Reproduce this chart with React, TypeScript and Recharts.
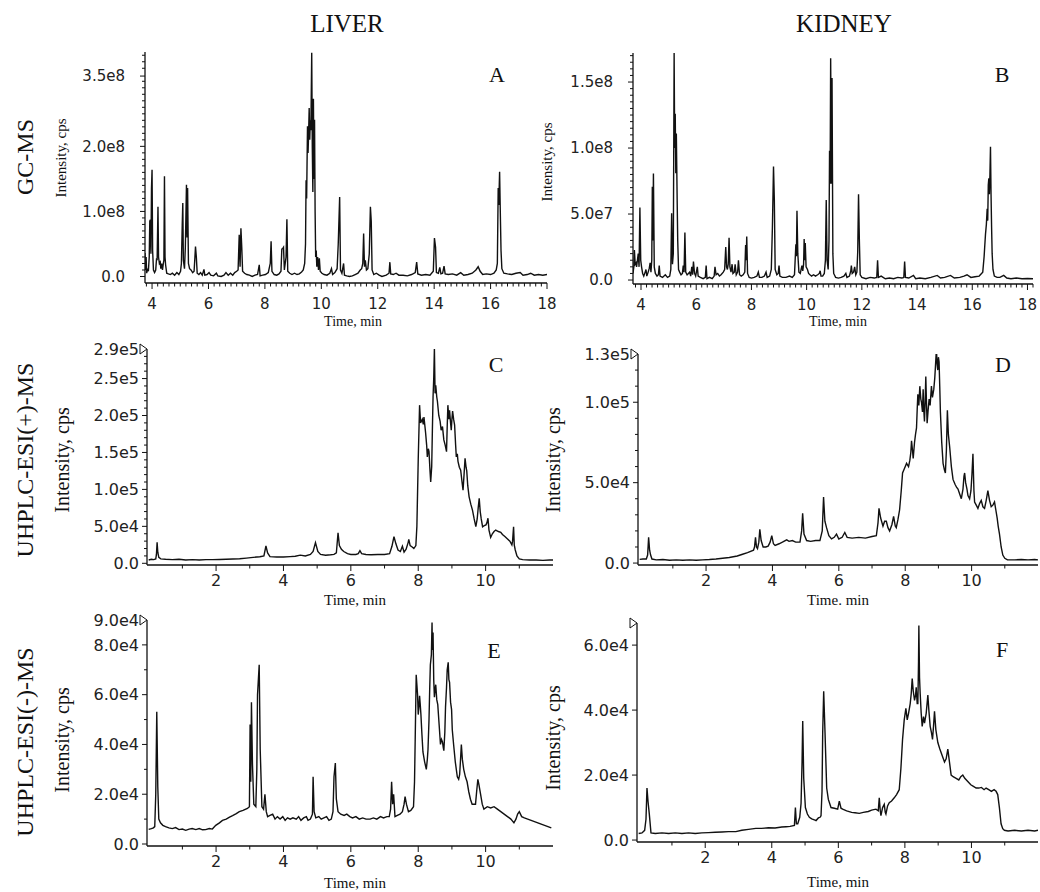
import React from "react";
import { LineChart, Line, XAxis, YAxis } from "recharts";

const SERIF = "'Liberation Serif', 'Times New Roman', serif";
const SANS = "'DejaVu Sans', Verdana, sans-serif";
const INK = "#111";

// ---------- data: [time (min), intensity in panel unit] ----------
const A_UNIT = 1e8;
const liverGC: [number, number][] = [
  [3.75,0.36],[3.77,0.1],[3.79,0.3],[3.81,0.05],[3.84,0.12],[3.87,0.08],[3.9,0.3],[3.92,0.85],[3.94,0.87],[3.96,0.35],[3.98,1.35],[4.0,1.64],[4.02,0.4],[4.05,0.1],[4.09,0.06],[4.13,0.1],[4.16,0.28],[4.18,0.25],[4.21,1.07],[4.23,0.3],[4.26,0.2],[4.29,0.22],[4.31,0.12],[4.34,0.2],[4.37,0.1],[4.4,0.2],[4.42,0.25],[4.44,1.54],[4.46,0.3],[4.48,0.18],[4.52,0.05],[4.58,0.04],[4.65,0.03],[4.72,0.05],[4.8,0.02],[4.88,0.06],[4.95,0.03],[5.01,0.08],[5.04,0.2],[5.07,0.79],[5.09,1.13],[5.11,0.25],[5.15,0.12],[5.18,0.45],[5.22,1.41],[5.24,0.6],[5.26,1.36],[5.29,0.2],[5.33,0.12],[5.38,0.1],[5.44,0.06],[5.49,0.08],[5.52,0.3],[5.54,0.46],[5.57,0.3],[5.6,0.05],[5.66,0.03],[5.72,0.06],[5.78,0.02],[5.84,0.11],[5.87,0.02],[5.95,0.03],[6.02,0.06],[6.08,0.02],[6.18,0.01],[6.28,0.05],[6.33,0.01],[6.45,0.0],[6.55,0.02],[6.62,0.06],[6.7,0.02],[6.78,0.05],[6.86,0.02],[6.93,0.06],[7.0,0.08],[7.05,0.1],[7.09,0.64],[7.12,0.15],[7.15,0.74],[7.18,0.45],[7.21,0.08],[7.28,0.05],[7.36,0.03],[7.45,0.02],[7.55,0.0],[7.65,0.02],[7.74,0.03],[7.8,0.18],[7.83,0.01],[7.92,0.02],[8.02,0.03],[8.12,0.06],[8.19,0.2],[8.22,0.54],[8.25,0.08],[8.33,0.03],[8.42,0.02],[8.5,0.04],[8.57,0.08],[8.6,0.42],[8.63,0.43],[8.66,0.45],[8.69,0.1],[8.75,0.3],[8.78,0.88],[8.81,0.08],[8.88,0.05],[8.96,0.03],[9.05,0.05],[9.14,0.03],[9.22,0.04],[9.3,0.07],[9.36,0.1],[9.41,0.2],[9.44,0.5],[9.46,1.48],[9.48,1.2],[9.51,2.31],[9.53,1.9],[9.55,2.2],[9.57,2.59],[9.59,2.1],[9.61,2.4],[9.63,2.25],[9.66,3.44],[9.68,2.0],[9.7,1.3],[9.72,2.73],[9.74,1.5],[9.76,2.41],[9.78,1.0],[9.8,0.3],[9.82,0.4],[9.84,0.15],[9.87,0.3],[9.9,0.1],[9.93,0.28],[9.96,0.08],[10.02,0.05],[10.1,0.03],[10.2,0.02],[10.3,0.05],[10.36,0.12],[10.4,0.03],[10.48,0.06],[10.56,0.12],[10.6,0.5],[10.65,1.22],[10.68,0.1],[10.73,0.05],[10.79,0.2],[10.82,0.02],[10.9,0.01],[11.0,0.0],[11.1,0.01],[11.2,0.03],[11.3,0.05],[11.38,0.1],[11.43,0.12],[11.47,0.2],[11.5,0.66],[11.53,0.15],[11.56,0.25],[11.6,0.1],[11.65,0.12],[11.7,0.35],[11.74,1.07],[11.77,0.85],[11.8,0.1],[11.86,0.03],[11.95,0.05],[12.05,0.02],[12.15,0.0],[12.3,0.02],[12.4,0.05],[12.43,0.22],[12.46,0.04],[12.55,0.03],[12.65,0.05],[12.75,0.02],[12.9,0.02],[13.05,0.01],[13.2,0.03],[13.33,0.06],[13.38,0.22],[13.42,0.04],[13.55,0.02],[13.7,0.03],[13.85,0.02],[13.97,0.08],[14.01,0.59],[14.05,0.45],[14.08,0.06],[14.15,0.05],[14.2,0.14],[14.24,0.04],[14.3,0.05],[14.35,0.16],[14.39,0.04],[14.5,0.03],[14.65,0.04],[14.8,0.02],[14.94,0.06],[15.05,0.02],[15.2,0.03],[15.35,0.05],[15.48,0.1],[15.56,0.15],[15.63,0.08],[15.72,0.03],[15.85,0.04],[16.0,0.03],[16.12,0.05],[16.2,0.1],[16.24,0.2],[16.27,1.36],[16.29,1.1],[16.32,1.61],[16.34,1.1],[16.37,0.4],[16.4,0.12],[16.47,0.05],[16.6,0.04],[16.75,0.03],[16.9,0.05],[17.05,0.06],[17.15,0.02],[17.3,0.03],[17.42,0.05],[17.55,0.02],[17.7,0.03],[17.85,0.02],[18.0,0.03],
];

const B_UNIT = 1e7;
const kidneyGC: [number, number][] = [
  [3.71,0.5],[3.74,1.0],[3.76,2.27],[3.79,1.2],[3.82,1.3],[3.84,1.0],[3.87,1.5],[3.9,2.0],[3.93,1.0],[3.96,5.5],[3.99,1.5],[4.02,1.0],[4.06,0.5],[4.1,0.3],[4.15,0.6],[4.18,0.8],[4.21,0.3],[4.26,0.6],[4.3,0.9],[4.33,1.3],[4.36,0.6],[4.39,1.5],[4.41,7.07],[4.43,3.0],[4.45,8.08],[4.48,1.0],[4.52,0.5],[4.58,0.3],[4.63,0.4],[4.66,1.1],[4.69,0.3],[4.78,0.2],[4.88,0.4],[4.96,0.2],[5.04,0.3],[5.08,0.8],[5.11,5.05],[5.14,1.2],[5.17,2.0],[5.2,17.2],[5.22,10.0],[5.24,12.6],[5.26,8.1],[5.28,11.1],[5.31,6.0],[5.33,3.0],[5.36,0.8],[5.4,0.6],[5.45,0.4],[5.5,0.5],[5.53,1.1],[5.56,0.6],[5.59,3.6],[5.62,0.6],[5.67,0.4],[5.72,0.5],[5.76,0.6],[5.8,0.3],[5.84,1.0],[5.87,0.4],[5.9,1.4],[5.94,0.5],[5.98,0.3],[6.04,1.0],[6.07,0.3],[6.15,0.2],[6.25,0.1],[6.33,0.2],[6.36,1.1],[6.39,0.1],[6.48,0.2],[6.58,0.1],[6.65,0.3],[6.68,1.0],[6.72,0.4],[6.78,0.5],[6.84,0.3],[6.9,0.4],[6.98,0.6],[7.03,0.8],[7.07,2.5],[7.1,1.0],[7.13,0.8],[7.16,1.2],[7.19,3.2],[7.22,1.0],[7.26,0.6],[7.3,1.2],[7.33,0.5],[7.38,0.6],[7.41,1.2],[7.45,0.4],[7.5,0.6],[7.53,1.5],[7.57,0.4],[7.63,0.3],[7.7,0.4],[7.76,0.6],[7.79,2.65],[7.81,1.5],[7.83,3.3],[7.86,0.5],[7.92,0.2],[8.0,0.15],[8.1,0.2],[8.2,0.3],[8.25,0.6],[8.29,0.2],[8.38,0.2],[8.47,0.3],[8.53,0.6],[8.57,0.2],[8.66,0.3],[8.72,0.8],[8.76,4.0],[8.8,8.6],[8.83,6.06],[8.86,0.8],[8.92,0.4],[8.97,0.5],[9.0,1.1],[9.03,0.3],[9.12,0.2],[9.25,0.2],[9.38,0.3],[9.48,0.2],[9.56,0.4],[9.61,2.7],[9.63,1.8],[9.65,5.25],[9.68,2.0],[9.72,0.6],[9.77,0.5],[9.8,0.8],[9.83,1.1],[9.86,0.7],[9.89,1.2],[9.91,3.1],[9.93,1.5],[9.95,2.8],[9.98,1.0],[10.03,0.8],[10.07,0.5],[10.12,0.4],[10.18,0.3],[10.25,0.4],[10.32,0.3],[10.4,0.4],[10.46,0.5],[10.49,0.7],[10.52,0.3],[10.58,0.3],[10.64,0.5],[10.68,1.5],[10.71,6.06],[10.74,1.5],[10.78,0.8],[10.81,3.0],[10.83,9.8],[10.85,7.3],[10.87,16.8],[10.9,7.3],[10.92,15.3],[10.95,2.0],[10.98,0.5],[11.05,0.2],[11.15,0.15],[11.25,0.2],[11.35,0.3],[11.42,0.5],[11.46,0.2],[11.55,0.3],[11.6,0.7],[11.62,1.1],[11.65,0.5],[11.7,0.6],[11.74,1.0],[11.78,0.4],[11.82,0.6],[11.85,2.1],[11.88,6.5],[11.91,3.0],[11.94,0.4],[12.0,0.2],[12.15,0.1],[12.3,0.2],[12.45,0.15],[12.54,0.2],[12.57,1.5],[12.6,0.2],[12.7,0.3],[12.85,0.1],[13.0,0.15],[13.15,0.1],[13.3,0.2],[13.45,0.15],[13.52,0.2],[13.55,1.4],[13.58,0.2],[13.7,0.15],[13.87,0.35],[13.95,0.1],[14.1,0.15],[14.3,0.1],[14.5,0.2],[14.73,0.35],[14.85,0.15],[15.0,0.2],[15.21,0.35],[15.35,0.15],[15.55,0.2],[15.7,0.3],[15.81,0.4],[15.95,0.2],[16.1,0.25],[16.25,0.3],[16.38,0.6],[16.43,1.8],[16.45,2.5],[16.48,3.5],[16.51,4.2],[16.54,5.4],[16.56,4.5],[16.58,7.2],[16.6,7.7],[16.62,6.5],[16.64,8.0],[16.66,10.1],[16.68,6.5],[16.7,4.0],[16.72,2.0],[16.75,0.8],[16.8,0.3],[16.9,0.2],[17.0,0.2],[17.14,0.35],[17.25,0.15],[17.4,0.1],[17.6,0.15],[17.8,0.1],[18.0,0.12],[18.2,0.1],
];

const LC_UNIT = 1e4;
const liverPos: [number, number][] = [
  [0.0,0.45],[0.08,0.55],[0.15,0.5],[0.21,0.6],[0.23,1.2],[0.25,2.84],[0.27,1.5],[0.3,0.8],[0.36,0.6],[0.5,0.55],[0.7,0.5],[0.9,0.55],[1.1,0.45],[1.3,0.5],[1.5,0.45],[1.7,0.5],[1.9,0.5],[2.1,0.52],[2.3,0.55],[2.5,0.58],[2.7,0.62],[2.9,0.7],[3.1,0.8],[3.3,0.88],[3.42,1.0],[3.48,2.34],[3.53,1.4],[3.6,0.9],[3.8,0.85],[4.0,0.85],[4.2,0.9],[4.35,0.95],[4.5,1.1],[4.65,1.0],[4.8,1.2],[4.88,1.6],[4.95,2.8],[5.02,1.6],[5.1,1.2],[5.25,1.1],[5.4,1.15],[5.5,1.2],[5.57,1.4],[5.62,4.14],[5.66,2.4],[5.72,1.9],[5.79,1.6],[5.9,1.3],[6.0,1.2],[6.15,1.2],[6.22,1.3],[6.27,1.7],[6.32,1.3],[6.45,1.2],[6.6,1.15],[6.8,1.2],[7.0,1.2],[7.15,1.3],[7.22,2.3],[7.28,3.6],[7.34,2.6],[7.4,1.8],[7.47,1.6],[7.53,2.3],[7.58,1.5],[7.64,1.9],[7.7,2.8],[7.72,3.25],[7.76,2.4],[7.82,2.2],[7.87,2.0],[7.93,2.4],[7.96,5.0],[8.0,14.0],[8.04,21.4],[8.07,19.0],[8.09,19.2],[8.12,19.5],[8.15,18.8],[8.17,19.8],[8.2,18.5],[8.22,17.6],[8.25,16.0],[8.27,14.4],[8.3,15.5],[8.32,15.1],[8.35,12.5],[8.37,11.0],[8.4,13.1],[8.42,18.0],[8.44,22.5],[8.46,25.0],[8.48,29.1],[8.5,23.0],[8.52,24.1],[8.55,22.5],[8.57,21.9],[8.61,20.0],[8.65,19.2],[8.68,18.0],[8.72,18.5],[8.76,16.7],[8.8,16.0],[8.84,15.1],[8.86,18.5],[8.88,21.4],[8.91,19.5],[8.93,20.7],[8.96,19.0],[8.98,18.0],[9.0,19.5],[9.02,20.6],[9.05,19.5],[9.08,18.7],[9.11,16.0],[9.13,14.4],[9.16,14.8],[9.18,13.8],[9.22,13.0],[9.26,12.6],[9.3,11.0],[9.33,9.9],[9.36,12.0],[9.39,14.2],[9.42,13.0],[9.44,12.5],[9.47,10.5],[9.51,9.0],[9.56,8.0],[9.61,7.2],[9.66,6.0],[9.71,4.95],[9.75,6.0],[9.78,7.5],[9.81,8.8],[9.84,7.0],[9.87,6.0],[9.91,4.95],[9.96,5.1],[10.01,5.2],[10.04,5.5],[10.07,6.1],[10.1,4.5],[10.15,3.5],[10.2,4.0],[10.25,4.3],[10.3,4.5],[10.38,4.3],[10.45,4.2],[10.5,3.9],[10.58,3.6],[10.65,3.3],[10.72,3.0],[10.78,2.5],[10.8,3.0],[10.83,4.95],[10.85,2.5],[10.88,1.8],[10.93,1.0],[11.0,0.6],[11.1,0.5],[11.3,0.45],[11.5,0.45],[11.7,0.4],[11.9,0.45],[12.0,0.45],
];

const kidneyPos: [number, number][] = [
  [0.0,0.23],[0.1,0.25],[0.2,0.25],[0.24,0.5],[0.27,1.6],[0.3,0.8],[0.33,0.5],[0.37,0.25],[0.5,0.2],[0.7,0.22],[0.9,0.18],[1.1,0.2],[1.3,0.18],[1.5,0.2],[1.7,0.18],[1.9,0.2],[2.1,0.22],[2.3,0.25],[2.5,0.3],[2.7,0.35],[2.94,0.44],[3.1,0.55],[3.25,0.65],[3.43,0.8],[3.46,1.0],[3.49,1.6],[3.52,1.0],[3.55,0.9],[3.59,1.3],[3.62,2.1],[3.66,1.4],[3.72,1.0],[3.8,1.0],[3.87,1.05],[3.93,1.3],[3.98,1.7],[4.03,1.2],[4.08,1.1],[4.2,1.2],[4.3,1.3],[4.43,1.44],[4.5,1.35],[4.6,1.4],[4.7,1.3],[4.83,1.3],[4.88,2.0],[4.91,3.1],[4.95,1.8],[5.03,1.4],[5.15,1.35],[5.3,1.4],[5.43,1.4],[5.5,2.0],[5.54,4.1],[5.58,2.6],[5.63,2.2],[5.7,1.7],[5.78,1.5],[5.86,1.6],[5.93,1.8],[6.0,1.5],[6.1,1.6],[6.18,1.9],[6.25,1.6],[6.4,1.55],[6.6,1.6],[6.8,1.55],[7.0,1.65],[7.13,1.7],[7.18,2.5],[7.21,3.4],[7.26,2.8],[7.33,2.3],[7.38,2.6],[7.43,2.6],[7.48,2.2],[7.53,2.0],[7.6,2.4],[7.65,2.9],[7.7,2.3],[7.73,2.2],[7.78,2.7],[7.83,3.3],[7.88,4.5],[7.92,5.6],[7.98,5.9],[8.04,6.2],[8.1,6.0],[8.14,6.4],[8.17,6.9],[8.19,7.6],[8.22,7.0],[8.24,6.5],[8.28,7.5],[8.31,8.0],[8.34,8.4],[8.36,9.5],[8.38,10.5],[8.41,9.8],[8.44,11.0],[8.47,10.2],[8.49,10.0],[8.52,9.4],[8.54,10.8],[8.56,9.5],[8.58,8.8],[8.6,10.0],[8.62,11.6],[8.64,10.0],[8.66,8.7],[8.69,9.5],[8.72,10.2],[8.75,9.8],[8.79,11.0],[8.82,10.3],[8.86,10.8],[8.89,11.5],[8.91,12.2],[8.94,13.3],[8.96,12.4],[8.98,12.0],[9.0,12.8],[9.02,12.5],[9.04,11.0],[9.06,9.4],[9.1,7.5],[9.14,6.2],[9.18,5.8],[9.21,5.6],[9.24,7.0],[9.27,9.5],[9.3,8.0],[9.34,7.2],[9.39,6.0],[9.44,5.2],[9.5,4.9],[9.55,4.7],[9.59,4.6],[9.64,4.3],[9.69,4.0],[9.74,4.6],[9.77,5.4],[9.79,5.6],[9.82,5.0],[9.86,4.6],[9.89,4.2],[9.94,4.0],[9.98,4.5],[10.01,5.5],[10.04,6.8],[10.07,4.5],[10.09,3.8],[10.14,3.6],[10.19,3.4],[10.24,3.7],[10.29,3.9],[10.34,3.5],[10.39,3.4],[10.44,3.9],[10.49,4.5],[10.54,3.9],[10.59,3.5],[10.64,3.6],[10.69,3.8],[10.73,3.3],[10.77,2.8],[10.8,2.3],[10.84,1.8],[10.89,1.0],[10.94,0.5],[11.0,0.3],[11.08,0.2],[11.3,0.2],[11.5,0.22],[11.7,0.2],[11.9,0.22],[12.0,0.2],
];

const liverNeg: [number, number][] = [
  [0.0,0.59],[0.08,0.62],[0.14,0.65],[0.18,0.7],[0.21,2.0],[0.24,5.31],[0.27,2.3],[0.3,1.0],[0.35,0.85],[0.42,0.75],[0.5,0.7],[0.6,0.65],[0.7,0.62],[0.8,0.66],[0.9,0.58],[1.0,0.6],[1.1,0.55],[1.2,0.6],[1.29,0.62],[1.4,0.58],[1.5,0.62],[1.6,0.57],[1.69,0.58],[1.8,0.62],[1.89,0.6],[1.99,0.75],[2.1,0.85],[2.19,0.95],[2.3,1.0],[2.4,1.08],[2.49,1.14],[2.6,1.22],[2.69,1.3],[2.8,1.35],[2.93,1.43],[2.99,1.5],[3.01,4.8],[3.03,2.5],[3.05,5.7],[3.08,3.2],[3.12,1.6],[3.18,1.5],[3.21,3.0],[3.23,6.0],[3.28,7.2],[3.31,3.8],[3.36,1.5],[3.41,1.4],[3.45,2.0],[3.49,1.3],[3.53,1.1],[3.6,1.15],[3.68,1.2],[3.75,1.0],[3.82,1.1],[3.9,1.0],[3.98,1.1],[4.05,0.95],[4.12,1.05],[4.2,1.0],[4.28,1.05],[4.38,1.0],[4.45,1.1],[4.52,0.95],[4.6,1.05],[4.68,1.1],[4.73,0.95],[4.8,1.0],[4.86,1.2],[4.88,2.7],[4.91,1.3],[4.96,1.05],[5.05,1.1],[5.12,1.0],[5.2,1.05],[5.28,1.1],[5.35,0.95],[5.42,1.0],[5.47,1.3],[5.5,2.7],[5.54,3.25],[5.57,1.8],[5.62,1.3],[5.7,1.2],[5.8,1.15],[5.88,1.2],[5.97,1.1],[6.05,1.05],[6.15,1.1],[6.25,1.0],[6.35,1.05],[6.45,1.0],[6.57,1.0],[6.67,1.05],[6.77,1.0],[6.88,1.1],[6.97,1.05],[7.07,1.1],[7.14,1.1],[7.18,1.4],[7.21,2.5],[7.24,1.6],[7.27,2.0],[7.31,1.1],[7.38,1.15],[7.46,1.2],[7.53,1.3],[7.58,1.6],[7.61,1.9],[7.65,1.6],[7.71,1.3],[7.78,1.35],[7.86,1.5],[7.89,2.5],[7.91,4.2],[7.94,6.8],[7.96,6.4],[7.98,6.0],[8.0,5.2],[8.02,5.5],[8.04,5.95],[8.06,5.6],[8.08,5.2],[8.11,4.4],[8.14,3.7],[8.19,3.3],[8.24,3.0],[8.27,3.4],[8.29,3.8],[8.32,5.0],[8.34,6.2],[8.36,7.2],[8.39,7.6],[8.41,8.9],[8.42,7.8],[8.44,8.5],[8.46,6.6],[8.48,5.9],[8.5,6.2],[8.52,6.4],[8.55,5.8],[8.58,5.6],[8.62,4.8],[8.66,4.0],[8.69,4.2],[8.72,4.1],[8.74,3.9],[8.76,3.75],[8.79,4.5],[8.81,5.5],[8.84,6.3],[8.86,7.0],[8.89,7.3],[8.91,6.6],[8.93,6.5],[8.96,5.7],[8.99,5.4],[9.01,4.6],[9.05,4.0],[9.1,3.3],[9.16,2.7],[9.2,2.6],[9.23,2.8],[9.26,3.5],[9.28,4.0],[9.31,3.4],[9.35,3.0],[9.4,2.7],[9.45,2.5],[9.5,2.1],[9.55,1.8],[9.6,1.6],[9.65,1.6],[9.7,1.6],[9.74,2.2],[9.77,2.6],[9.8,2.4],[9.85,2.0],[9.9,1.6],[9.95,1.4],[10.05,1.5],[10.15,1.45],[10.25,1.5],[10.35,1.4],[10.45,1.3],[10.55,1.2],[10.65,1.1],[10.75,1.0],[10.84,0.85],[10.9,1.0],[10.95,1.2],[11.0,1.3],[11.07,1.1],[11.15,1.05],[11.25,1.0],[11.35,0.95],[11.45,0.9],[11.55,0.85],[11.65,0.8],[11.75,0.75],[11.85,0.7],[11.95,0.65],
];

const kidneyNeg: [number, number][] = [
  [0.0,0.2],[0.1,0.22],[0.18,0.3],[0.22,0.64],[0.25,1.6],[0.28,1.2],[0.32,0.8],[0.37,0.22],[0.5,0.2],[0.7,0.22],[0.9,0.2],[1.1,0.22],[1.3,0.2],[1.5,0.22],[1.7,0.2],[1.9,0.22],[2.1,0.23],[2.3,0.24],[2.5,0.25],[2.7,0.26],[2.92,0.26],[3.1,0.3],[3.3,0.33],[3.52,0.36],[3.7,0.36],[3.9,0.38],[4.1,0.37],[4.3,0.4],[4.43,0.41],[4.55,0.42],[4.68,0.45],[4.71,1.0],[4.74,0.5],[4.78,0.5],[4.84,0.7],[4.88,1.13],[4.91,2.4],[4.93,3.66],[4.96,1.9],[5.01,1.0],[5.07,0.8],[5.13,0.7],[5.2,0.65],[5.28,0.62],[5.33,0.6],[5.4,0.68],[5.45,0.7],[5.48,0.75],[5.51,1.5],[5.53,3.3],[5.56,4.58],[5.6,3.3],[5.65,1.6],[5.7,1.25],[5.78,1.0],[5.88,0.98],[5.98,0.95],[6.03,1.2],[6.08,0.98],[6.13,0.95],[6.25,0.9],[6.4,0.85],[6.5,0.84],[6.63,0.82],[6.75,0.85],[6.9,0.88],[7.0,0.92],[7.13,0.95],[7.2,0.9],[7.23,1.3],[7.26,0.9],[7.28,0.75],[7.33,1.0],[7.38,1.1],[7.41,0.85],[7.43,0.8],[7.48,1.05],[7.53,1.15],[7.6,1.2],[7.68,1.3],[7.75,1.4],[7.83,1.55],[7.88,2.2],[7.93,3.1],[7.98,3.7],[8.03,4.05],[8.07,3.7],[8.11,3.9],[8.16,4.2],[8.19,4.5],[8.22,4.97],[8.25,4.6],[8.29,4.3],[8.32,4.45],[8.34,4.7],[8.37,4.2],[8.39,4.2],[8.41,5.5],[8.42,6.6],[8.44,5.0],[8.46,4.5],[8.49,3.9],[8.52,3.5],[8.56,3.8],[8.59,3.6],[8.64,3.9],[8.69,4.46],[8.72,4.0],[8.76,3.5],[8.8,3.3],[8.83,3.1],[8.86,3.5],[8.89,3.96],[8.93,3.4],[8.99,3.0],[9.05,2.8],[9.12,2.6],[9.19,2.4],[9.24,2.5],[9.29,2.8],[9.34,2.4],[9.39,2.0],[9.45,1.95],[9.54,1.9],[9.62,1.85],[9.68,1.95],[9.74,2.0],[9.8,1.9],[9.89,1.8],[9.98,1.7],[10.06,1.65],[10.14,1.6],[10.22,1.6],[10.3,1.62],[10.38,1.55],[10.44,1.6],[10.52,1.55],[10.6,1.5],[10.68,1.55],[10.74,1.5],[10.79,1.4],[10.84,1.0],[10.89,0.5],[10.94,0.35],[10.99,0.3],[11.1,0.28],[11.3,0.3],[11.5,0.28],[11.7,0.3],[11.9,0.28],[12.0,0.3],
];

// ---------- tick values and labels ----------
const GC_XMAJOR = [4, 6, 8, 10, 12, 14, 16, 18];
const LC_XMAJOR = [2, 4, 6, 8, 10];
const A_YTICKS = [0, 1e8, 2e8, 3.08e8];
const A_YLABELS = ["0.0", "1.0e8", "2.0e8", "3.5e8"];
const B_YTICKS = [0, 5e7, 1e8, 1.5e8];
const B_YLABELS = ["0.0", "5.0e7", "1.0e8", "1.5e8"];
const C_YTICKS = [0, 5e4, 1e5, 1.5e5, 2e5, 2.5e5, 2.9e5];
const C_YLABELS = ["0.0", "5.0e4", "1.0e5", "1.5e5", "2.0e5", "2.5e5", "2.9e5"];
const D_YTICKS = [0, 5e4, 1e5, 1.3e5];
const D_YLABELS = ["0.0", "5.0e4", "1.0e5", "1.3e5"];
const E_YTICKS = [0, 2e4, 4e4, 6e4, 8e4, 9e4];
const E_YLABELS = ["0.0", "2.0e4", "4.0e4", "6.0e4", "8.0e4", "9.0e4"];
const F_YTICKS = [0, 2e4, 4e4, 6e4, 6.68e4];
const F_YLABELS = ["0.0", "2.0e4", "4.0e4", "6.0e4", ""];

const COLUMN_TITLES = ["LIVER", "KIDNEY"];
const ROW_TITLES = ["GC-MS", "UHPLC-ESI(+)-MS", "UHPLC-ESI(-)-MS"];
const PANEL_LETTERS = ["A", "B", "C", "D", "E", "F"];

// ---------- helpers ----------
const close = (a: number, b: number) =>
  Math.abs(a - b) <= 1e-6 * Math.max(1, Math.abs(a), Math.abs(b));
const steps = (from: number, to: number, step: number, exclude: number[]) => {
  const out: number[] = [];
  const n = Math.round((to - from) / step);
  for (let i = 0; i <= n; i++) {
    const v = Math.round((from + i * step) * 1e6) / 1e6;
    if (!exclude.some((e) => Math.abs(e - v) < step * 0.3)) out.push(v);
  }
  return out;
};
const rows = (pts: [number, number][], unit: number) => pts.map(([t, v]) => ({ t, v: v * unit }));

type Cfg = {
  data: { t: number; v: number }[];
  left: number; top: number; right: number; axisY: number;
  xDomain: [number, number]; yDomain: [number, number];
  xMajor: number[]; xMinor: number[];
  yMajor: number[]; yLabels: string[]; yMinor: number[];
  tickFont: number; yGap: number; xOff: number; triangle: boolean;
};

const PANELS: Cfg[] = [
  {
    data: rows(liverGC, A_UNIT), left: 145, top: 52, right: 547, axisY: 283,
    xDomain: [3.75, 18.0], yDomain: [-0.1e8, 3.45e8],
    xMajor: GC_XMAJOR, xMinor: steps(3.8, 18, 0.2, GC_XMAJOR),
    yMajor: A_YTICKS, yLabels: A_YLABELS, yMinor: steps(0, 3.4e8, 0.1e8, A_YTICKS),
    tickFont: 15, yGap: 20, xOff: 26, triangle: false,
  },
  {
    data: rows(kidneyGC, B_UNIT), left: 633, top: 53, right: 1033, axisY: 284,
    xDomain: [3.71, 18.2], yDomain: [-0.3e7, 17.2e7],
    xMajor: GC_XMAJOR, xMinor: steps(3.8, 18.2, 0.2, GC_XMAJOR),
    yMajor: B_YTICKS, yLabels: B_YLABELS, yMinor: steps(0, 1.7e8, 0.5e7, B_YTICKS),
    tickFont: 15, yGap: 20, xOff: 26, triangle: false,
  },
  {
    data: rows(liverPos, LC_UNIT), left: 147, top: 349, right: 553, axisY: 565,
    xDomain: [-0.05, 12.0], yDomain: [-2300, 290000],
    xMajor: LC_XMAJOR, xMinor: steps(1, 11, 1, LC_XMAJOR),
    yMajor: C_YTICKS, yLabels: C_YLABELS, yMinor: steps(0, 2.8e5, 1e4, C_YTICKS),
    tickFont: 16, yGap: 8, xOff: 21, triangle: true,
  },
  {
    data: rows(kidneyPos, LC_UNIT), left: 638, top: 354, right: 1038, axisY: 565,
    xDomain: [-0.05, 12.0], yDomain: [-1200, 130000],
    xMajor: LC_XMAJOR, xMinor: steps(1, 11, 1, LC_XMAJOR),
    yMajor: D_YTICKS, yLabels: D_YLABELS, yMinor: steps(0, 1.2e5, 1e4, D_YTICKS),
    tickFont: 16, yGap: 8, xOff: 21, triangle: true,
  },
  {
    data: rows(liverNeg, LC_UNIT), left: 147, top: 620, right: 553, axisY: 846,
    xDomain: [-0.05, 12.0], yDomain: [-800, 90000],
    xMajor: LC_XMAJOR, xMinor: steps(1, 11, 1, LC_XMAJOR),
    yMajor: E_YTICKS, yLabels: E_YLABELS, yMinor: steps(0, 8.5e4, 1e4, E_YTICKS),
    tickFont: 16, yGap: 8, xOff: 21, triangle: true,
  },
  {
    data: rows(kidneyNeg, LC_UNIT), left: 637, top: 623, right: 1038, axisY: 842,
    xDomain: [-0.05, 12.0], yDomain: [-600, 66800],
    xMajor: LC_XMAJOR, xMinor: steps(1, 11, 1, LC_XMAJOR),
    yMajor: F_YTICKS, yLabels: F_YLABELS, yMinor: [],
    tickFont: 16, yGap: 8, xOff: 21, triangle: true,
  },
];

const YW = 110;
const MT = 8;
const MR = 24;
const XH = 50;

function XTick(props: any) {
  const { x, y, payload, cfg } = props;
  const v = payload.value;
  const major = cfg.xMajor.some((m: number) => close(m, v));
  return (
    <g>
      <line x1={x} x2={x} y1={y} y2={y + (major ? 6 : 3.5)} stroke={INK} strokeWidth={1} />
      {major && (
        <text x={x} y={y + cfg.xOff} textAnchor="middle" fontFamily={SANS} fontSize={cfg.tickFont} fill="#222">
          {String(v)}
        </text>
      )}
    </g>
  );
}

function YTick(props: any) {
  const { x, y, payload, cfg } = props;
  const v = payload.value;
  const idx = cfg.yMajor.findIndex((m: number) => close(m, v));
  const major = idx >= 0;
  const isTop = major && idx === cfg.yMajor.length - 1;
  return (
    <g>
      {!(isTop && cfg.triangle) && (
        <line x1={x - (major ? 5 : 3)} x2={x} y1={y} y2={y} stroke={INK} strokeWidth={1} />
      )}
      {isTop && cfg.triangle && (
        <path d={`M${x - 7},${y - 5} L${x},${y} L${x - 7},${y + 5} Z`} fill="#fff" stroke={INK} strokeWidth={1} />
      )}
      {major && cfg.yLabels[idx] && (
        <text x={x - cfg.yGap} y={y} dy="0.36em" textAnchor="end" fontFamily={SANS} fontSize={cfg.tickFont} fill="#222">
          {cfg.yLabels[idx]}
        </text>
      )}
    </g>
  );
}

function Panel({ cfg }: { cfg: Cfg }) {
  const w = YW + (cfg.right - cfg.left) + MR;
  const h = MT + (cfg.axisY - cfg.top) + XH;
  const xt = [...cfg.xMajor, ...cfg.xMinor].sort((a, b) => a - b);
  const yt = [...cfg.yMajor, ...cfg.yMinor].sort((a, b) => a - b);
  return (
    <div style={{ position: "absolute", left: cfg.left - YW, top: cfg.top - MT }}>
      <LineChart width={w} height={h} data={cfg.data} margin={{ top: MT, right: MR, bottom: 0, left: 0 }}>
        <XAxis
          dataKey="t" type="number" domain={cfg.xDomain} ticks={xt} interval={0}
          allowDataOverflow height={XH} tickSize={0} tickMargin={0} tickLine={false}
          axisLine={{ stroke: INK, strokeWidth: 1.3 }}
          tick={(p: any) => <XTick {...p} cfg={cfg} />}
        />
        <YAxis
          type="number" domain={cfg.yDomain} ticks={yt} interval={0} allowDataOverflow
          width={YW} tickSize={0} tickMargin={0} tickLine={false}
          axisLine={{ stroke: INK, strokeWidth: 1.3 }}
          tick={(p: any) => <YTick {...p} cfg={cfg} />}
        />
        <Line type="linear" dataKey="v" stroke={INK} strokeWidth={1.4} dot={false} isAnimationActive={false} />
      </LineChart>
    </div>
  );
}

const rot = (x: number, y: number) => `rotate(-90 ${x} ${y})`;

export default function App() {
  const yTitles = [
    { x: 66, y: 158, s: 15 }, { x: 552, y: 162, s: 15 },
    { x: 69, y: 460, s: 20 }, { x: 560, y: 460, s: 20 },
    { x: 69, y: 740, s: 20 }, { x: 560, y: 738, s: 20 },
  ];
  const xTitles = [
    { x: 353, y: 326, s: 14, t: "Time, min" }, { x: 838, y: 326, s: 14, t: "Time, min" },
    { x: 355, y: 605, s: 15, t: "Time, min" }, { x: 838, y: 605, s: 15, t: "Time. min" },
    { x: 355, y: 888, s: 15, t: "Time, min" }, { x: 838, y: 887, s: 15, t: "Time, min" },
  ];
  const letterPos = [
    { x: 497, y: 82 }, { x: 1002, y: 82 }, { x: 496, y: 372 },
    { x: 1003, y: 372 }, { x: 494, y: 658 }, { x: 1002, y: 657 },
  ];
  const rowPos = [157, 460, 742];
  return (
    <div style={{ position: "absolute", left: 0, top: 0, width: 1040, height: 892, background: "#fff", overflow: "hidden" }}>
      {PANELS.map((p, i) => (
        <Panel key={i} cfg={p} />
      ))}
      <svg width={1040} height={892} style={{ position: "absolute", left: 0, top: 0, pointerEvents: "none" }}>
        <g fontFamily={SERIF} fill="#111">
          <text x={347} y={32} fontSize={25} textAnchor="middle">{COLUMN_TITLES[0]}</text>
          <text x={844} y={32} fontSize={25} textAnchor="middle">{COLUMN_TITLES[1]}</text>
          {ROW_TITLES.map((t, i) => (
            <text key={t} x={33} y={rowPos[i]} fontSize={24} textAnchor="middle" transform={rot(33, rowPos[i])}>{t}</text>
          ))}
          {yTitles.map((p, i) => (
            <text key={"yt" + i} x={p.x} y={p.y} fontSize={p.s} textAnchor="middle" transform={rot(p.x, p.y)}>Intensity, cps</text>
          ))}
          {xTitles.map((p, i) => (
            <text key={"xt" + i} x={p.x} y={p.y} fontSize={p.s} textAnchor="middle">{p.t}</text>
          ))}
          {PANEL_LETTERS.map((l, i) => (
            <text key={l} x={letterPos[i].x} y={letterPos[i].y} fontSize={22} textAnchor="middle">{l}</text>
          ))}
        </g>
      </svg>
    </div>
  );
}
